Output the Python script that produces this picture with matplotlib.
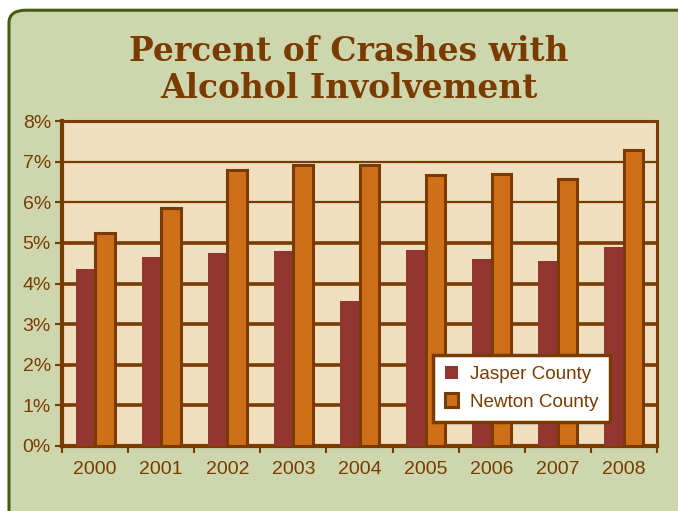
import numpy as np
import matplotlib.pyplot as plt
from matplotlib.patches import FancyBboxPatch
from matplotlib.ticker import FixedLocator, FuncFormatter

years = ['2000', '2001', '2002', '2003', '2004', '2005', '2006', '2007', '2008']
jasper = [4.36, 4.66, 4.75, 4.79, 3.57, 4.82, 4.61, 4.55, 4.91]
newton = [5.25, 5.85, 6.80, 6.92, 6.92, 6.66, 6.69, 6.58, 7.29]

brown = '#7a3b00'
red = '#933631'
orange = '#cf6f17'

fig = plt.figure(figsize=(6.78, 5.11), dpi=100)
fig.patch.set_facecolor('white')

# rounded green panel, runs off the right and bottom edges
panel = FancyBboxPatch((9 / 678, -0.1), 1.2, 1.08, boxstyle='round,pad=0,rounding_size=0.025',
                       transform=fig.transFigure, facecolor='#cdd6ad', edgecolor='#4b5a12',
                       linewidth=2.2, zorder=-5)
fig.patches.append(panel)

fig.text(349 / 678, 1 - 51 / 511, 'Percent of Crashes with', ha='center', va='center',
         fontsize=23.7, fontweight='bold', family='DejaVu Serif', color=brown)
fig.text(349 / 678, 1 - 89 / 511, 'Alcohol Involvement', ha='center', va='center',
         fontsize=23.7, fontweight='bold', family='DejaVu Serif', color=brown)

ax = fig.add_axes([62 / 678, 1 - 446 / 511, 595 / 678, 325 / 511])
ax.set_zorder(2)
ax.set_facecolor('#f0dfbf')

x = np.arange(len(years))
w = 0.295
b1 = ax.bar(x - w / 2, jasper, width=w, color=red, zorder=3)
b2 = ax.bar(x + w / 2, newton, width=w, color=orange, edgecolor=brown, linewidth=2.2, zorder=3)

ax.set_xlim(-0.5, len(years) - 0.5)
ax.set_ylim(0, 8)

for v in range(1, 8):
    ax.axhline(v, color=brown, linewidth=1.6 if v >= 6 else 2.6, zorder=1)

for s in ax.spines.values():
    s.set_color(brown)
    s.set_linewidth(2.2)
ax.spines['left'].set_linewidth(3)
ax.spines['bottom'].set_linewidth(3)

ax.set_yticks(range(0, 9))
ax.yaxis.set_major_formatter(FuncFormatter(lambda v, p: '%d%%' % v))
ax.set_xticks(x)
ax.set_xticklabels(years)
ax.xaxis.set_minor_locator(FixedLocator(np.arange(-0.5, len(years), 1)))
ax.tick_params(axis='x', which='major', length=0, pad=11)
ax.tick_params(axis='x', which='minor', length=5, width=1.5, color=brown)
ax.tick_params(axis='y', length=5, width=1.5, color=brown, pad=3)
for lab in ax.get_xticklabels() + ax.get_yticklabels():
    lab.set_family('Liberation Sans')
    lab.set_fontsize(14)
    lab.set_color(brown)

leg = ax.legend([b1, b2], ['Jasper County', 'Newton County'], loc='lower right',
                bbox_to_anchor=(548 / 595, 24 / 325), frameon=True, fancybox=False,
                prop={'family': 'Liberation Sans', 'size': 13.6}, handlelength=0.7,
                handleheight=0.7, handletextpad=0.65, borderpad=0.6, labelspacing=0.55,
                borderaxespad=0)
leg.get_frame().set_edgecolor(brown)
leg.get_frame().set_linewidth(2.5)
leg.get_frame().set_facecolor('white')
leg.get_frame().set_alpha(1)
leg.set_zorder(5)
for t in leg.get_texts():
    t.set_color(brown)

fig.savefig('out.png', dpi=100, facecolor=fig.get_facecolor())
